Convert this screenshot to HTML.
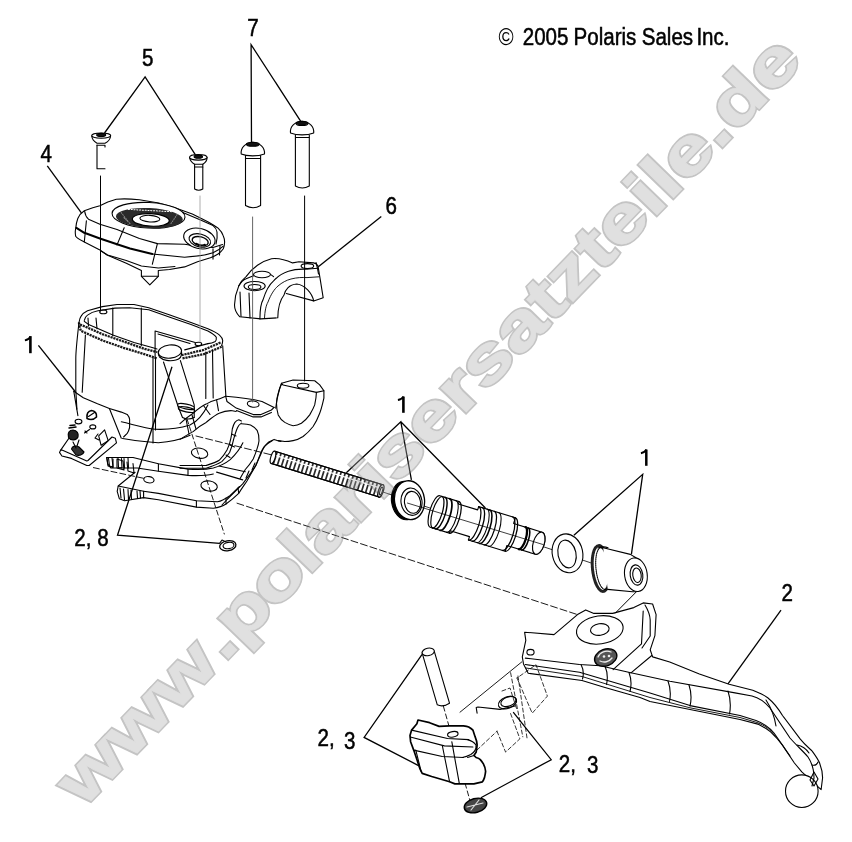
<!DOCTYPE html>
<html><head><meta charset="utf-8">
<style>
html,body{margin:0;padding:0;background:#fff;width:852px;height:842px;overflow:hidden}
svg{display:block}
</style></head><body>
<svg width="852" height="842" viewBox="0 0 852 842">
<rect width="852" height="842" fill="#fff"/>
<!-- texts -->
<g font-family="'Liberation Sans', sans-serif" font-size="24.5" fill="#000" stroke="#000" stroke-width="0.55" opacity="0.999">
<text transform="translate(498.5,45) scale(0.84,1)" stroke-width="0">©</text>
<text transform="translate(522.7,45) scale(0.84,1)">2005</text>
<text transform="translate(573.5,45) scale(0.84,1)">Polaris</text>
<text transform="translate(641.7,45) scale(0.84,1)">Sales</text>
<text transform="translate(696.4,45) scale(0.84,1)">Inc.</text>
<text transform="translate(142,66.4) scale(0.84,1)">5</text>
<text transform="translate(247.3,36.4) scale(0.84,1)">7</text>
<text transform="translate(40.5,161.9) scale(0.84,1)">4</text>
<text transform="translate(385.6,214) scale(0.84,1)">6</text>
<text transform="translate(781.5,601.2) scale(0.84,1)">2</text>
<text transform="translate(74.3,546) scale(0.84,1)">2, 8</text>
<text transform="translate(317.5,746.4) scale(0.84,1)">2,</text>
<text transform="translate(343.9,749.2) scale(0.84,1)">3</text>
<text transform="translate(558.8,772) scale(0.84,1)">2,</text>
<text transform="translate(586.9,772.7) scale(0.84,1)">3</text>
</g>
<g stroke="#000" fill="none">
<path d="M30.4,353.2 L30.4,336.2" stroke-width="2.6"/>
<path d="M30.6,336.3 C29.5,338.6 27.8,339.8 24.9,340.4" stroke-width="1.9"/>
<path d="M403.4,412.8 L403.4,396.6" stroke-width="2.6"/>
<path d="M403.6,396.6 C402.4,398.6 400.8,399.6 397.9,400" stroke-width="1.9"/>
<path d="M646.3,465.8 L646.3,449.6" stroke-width="2.5"/>
<path d="M646.5,449.6 C645.3,451.6 643.8,452.7 640.9,453.2" stroke-width="1.9"/>
</g>
<!-- leader lines -->
<g stroke="#000" stroke-width="1.3" fill="none">
<path d="M104.5,133 L145.1,76.9 L195.6,155.1"/>
<path d="M251.5,142 L251.1,44.6 L300.6,121.1"/>
<path d="M47.3,165.9 L83,215.2"/>
<path d="M381.3,216.4 L318,267.1"/>
<path d="M38.4,345.3 L75.5,392"/>
<path d="M346.3,472.7 L400.8,421.7 L411.4,479.8 M400.8,421.7 L485.4,508"/>
<path d="M573.9,535.3 L642.7,474.3 L631.4,554.4"/>
<path d="M781,610.1 L727.6,684.3"/>
<path d="M172,366.8 L117.5,535.2 L219.6,543.4"/>
<path d="M422.1,654.4 L364.1,737.4 L419,765.8"/>
<path d="M513.2,712.2 L551.2,759.7 L480.9,797.7"/>
</g>
<!-- DRAWING -->
<g id="drawing" stroke="#000" stroke-width="1.1" fill="none" stroke-linejoin="round" stroke-linecap="round">
<!-- projection lines -->


<!-- screws 5 -->
<path d="M91.8,136 C92,139.5 95,142 97,143.2 L105,143.2 C107.5,142 110.3,139.5 110.6,136" fill="#fff"/>
<ellipse cx="101.2" cy="135.6" rx="9.5" ry="2.6" fill="#fff"/>
<ellipse cx="101.2" cy="135" rx="4.5" ry="1.6" fill="#111"/>
<path d="M97,145 L97,168.8 L105,168.8"/>
<path d="M97,145.2 L105,145.2 L105,147"/>
<path d="M189.6,157.5 C190,160.5 192.5,163 194.6,164.2 L202.8,164.2 C205,163 207,160.5 207.1,157.5" fill="#fff"/>
<ellipse cx="198.3" cy="157.3" rx="8.8" ry="2.8" fill="#fff"/>
<ellipse cx="198.3" cy="156.7" rx="4.2" ry="1.6" fill="#111"/>
<path d="M194.6,164.2 L194.6,189 Q198.7,191.5 202.8,189 L202.8,164.2"/>
<path d="M194.6,167 L202.8,167"/>
<!-- screws 7 -->
<path d="M241.2,154 C240.5,148 245,143 252.8,142.3 C260.5,143 265,148 264.5,154 C258,156.5 247,156.5 241.2,154 Z" fill="#fff"/>
<ellipse cx="252.8" cy="144.3" rx="6.5" ry="2" fill="#111"/>
<path d="M245.5,155.6 L245.5,205.5 Q253,210 260.6,205.5 L260.6,155.6"/>
<path d="M246,158.5 L260,158.5"/>
<path d="M290.5,133 C289.8,127 294,122 302,121.3 C310,122 314.2,127 313.7,133 C307,135.5 297,135.5 290.5,133 Z" fill="#fff"/>
<ellipse cx="302" cy="123.4" rx="6" ry="2" fill="#111"/>
<path d="M295.4,135 L295.4,186 Q302.3,190 309.3,186 L309.3,135"/>
<path d="M296,137.5 L309,137.5"/>

<!-- cover 4 -->
<path d="M77.8,218.5 C79.5,214.5 81.5,212.5 84.3,210.7 L92.8,207.8 L99.9,205.7 L107.8,202.1 L116.3,199.3 C122,198.6 130,198.8 139.4,199.7 L158.7,203 L174.2,207.5 L192.3,214 L207.8,221.7 C212,224 215.5,226 218.1,228.2 C220.5,230.5 222.3,233 223.3,235.9 C224.3,238 224.7,240 224.6,242.4 C224.5,245 224,247 223.3,248.8 C221.8,251 220,252.8 218.1,254 C215.5,255.6 213,256.8 210.4,257.8 L197.5,261.7 L184.6,266.9 L169.5,269.5 L158.3,270.5 L158.3,276.3 L149.8,284.8 L141.4,276.3 L141.4,270.5 L126.3,263.2 L107,255 L99.9,249.9 L84.3,242 C80.5,240 77,238.5 75.7,236.3 C75.1,233.5 75.2,231 75.6,229 C76,225 76.6,221.5 77.8,218.5 Z" fill="#fff"/>
<path d="M84.6,211 C85,214 86,217 88.5,219.2 L99.9,224.2 L117,229.5 L139.4,238.5 L157.4,243.6 L184.6,244.3 L197.5,246.2 L213,247.5 L222.5,244.5"/>
<path d="M169.1,207.5 L184.6,213.2 L200,219.8 L213,225.6 C215,227 216.5,229.5 217,232 C217.5,236 217,240 216,244"/>
<path d="M76.4,227.8 L84.3,232.8 L99.9,238.5 L116.3,244 L130,248.5 L152.3,254" stroke-width="2"/>
<path d="M152.3,254 L184.6,257.2 C200,256 208,254.5 213,252.7 C218,250.5 221,248.5 223.3,246.2"/>
<path d="M86.4,220.7 L84.3,242 M124.2,227.8 L117,244.9 M157.4,243.6 L152.3,264.3 M213,248.8 L213,259.1 M220,246 L219.5,255"/>
<path d="M101,251 L107.6,255 L126.3,260.5 L141.4,266 L158.3,268 L175,266.5"/>
<path d="M141.4,276.3 L158.3,276.3"/>
<g transform="rotate(3 149 216)">
<ellipse cx="148.5" cy="215.3" rx="36.5" ry="12.8" fill="#fff"/>
<ellipse cx="149.5" cy="218" rx="33.5" ry="10" fill="#2a2a2a" stroke="none"/>
<path d="M128,210.5 L172,210.5" stroke="#fff" stroke-width="1" stroke-dasharray="1.2 1.6"/>
<path d="M121,214 L128,222 M177,213 L171,223 M124,219 L131,225" stroke="#888" stroke-width="1" stroke-dasharray="1 1.5"/>
<ellipse cx="151" cy="219.8" rx="18.5" ry="6.3" fill="#fff" stroke-width="1.2"/>
<ellipse cx="150" cy="218.6" rx="10" ry="3.3"/>
</g>
<ellipse cx="199.4" cy="238.5" rx="16" ry="10" transform="rotate(14 199.4 238.5)" fill="#fff"/>
<ellipse cx="199.8" cy="240.4" rx="11" ry="6.4" transform="rotate(14 199.8 240.4)"/>
<ellipse cx="200.2" cy="241.2" rx="8.2" ry="4.4" transform="rotate(14 200.2 241.2)" stroke-width="1.4"/>
<path d="M196,243.5 C199,245 203,245.5 205,244.5" stroke-width="1.6"/>
<!-- clamp 6 -->
<path d="M239.8,316.8 C236,313 234.5,310 234.5,305 L235.6,295.6 L238.7,286.1 C241,281 243,279 246.1,276.6 C252,268 262,261 271.5,258.7 C278,258 286,260 292.6,262.9 L299,261.8 L313.7,262.9 C316,263.5 317.5,265 318,266.1 L320.1,278.7 L323.2,297.8 L313.7,300.9 C312,293 305,285 296.8,284 C289,284.5 285,290 284,295 C280,300 278,306 277.8,317.8 L260.9,318.9 Z" fill="#fff"/>
<path d="M259.9,318.9 C260,310 261,303 263,299.9 C266,290 270,284 273.6,280.9 C278,276 283,273 288.4,271.3 C295,269 300,269 305.3,269.2 L318,268.2"/>
<path d="M238.7,286.1 C241,282 244,279.5 246.1,278.7 C253,275.5 260,273.5 267.3,273.5 C270,274 272,275 273.6,276.6"/>
<path d="M286.3,293.5 L313.7,300.9"/>
<path d="M264.5,318.5 C264.8,311 266,305.5 268,302 C271,294 274.5,289 278,286 C282,282.5 286.5,280.2 291,279 C297,277.5 302,277.3 307,277.6 L319,276.8" stroke-width="0.9"/>
<path d="M316,262.5 C317,266 318,270 318.5,274"/>
<path d="M240,292 L241,316.5 M249,293 L250,318"/>
<ellipse cx="254.6" cy="286.1" rx="10.6" ry="4.6" fill="#fff"/>
<ellipse cx="254.6" cy="287" rx="6.3" ry="2.5"/>
<ellipse cx="262" cy="274.5" rx="8.5" ry="3.2" fill="#fff"/>
<ellipse cx="307.4" cy="266.1" rx="6.3" ry="2.5"/>
</g>
<g id="body" stroke="#000" stroke-width="1.1" fill="none" stroke-linejoin="round" stroke-linecap="round">
<!-- reservoir rim -->
<path d="M79,322.5 C79.5,319 80,317.5 81.1,316.1 C83,313 85,312 87.5,310.8 L102.3,306.6 L117,304.5 L134,304.5 L148.7,307.7 L169.9,315.1 L191,322.5 L207.9,328.8 C213,331 217,333 219.5,335.1 C221.5,337 222.7,339 222.7,340.4 C222.7,342.5 222,344.5 221.6,345.7"/>
<path d="M79,322.5 C79,325 80,329 81.1,330.9 L102.3,340.4 L123.4,347.8 L144.5,354.2 L157.2,358.4 M182.5,358.4 L203.7,354.2 L221.6,346.8" stroke-width="2.3" stroke="#1a1a1a" stroke-dasharray="2.2 0.8" stroke-linecap="butt"/>
<path d="M80,324.5 L85.4,326.7 L102.3,334.1 L123.4,341.5 L144.5,348.9 L157.2,352 M181.5,355.2 L203.7,349.9 L220.6,342.5" stroke-width="2.3" stroke="#1a1a1a" stroke-dasharray="2.2 0.8" stroke-linecap="butt"/>

<path d="M84.3,320.4 C85,318 86,316 87.5,315.1 C91,312.5 94,311.5 98,310.8 L114.9,308.1 L129.7,307.7 L148.7,309.8 L169.9,317.2 L191,324.6 L207.9,330.9 C212,333 215,335 216.3,337.3 C216.5,339.5 216,341 215.3,341.5 C213,342.8 210,343.5 207.9,343.6"/>
<path d="M84.3,321.4 C87,324 90,325.5 93.8,326.7 L112.8,335.1 L134,342.5 L153,347.8 L157,349 M184.7,349.9 L207.9,343.6"/>
<path d="M112.8,308 L112.8,336 M141.3,308 L141.3,345.7 M96,318 L97,328.8 M88,318 L88.5,326"/>
<path d="M155.1,331 L155.1,358 M155.1,331 L195.2,342.5 M158,334 L190,343.5"/>
<ellipse cx="103.3" cy="311.9" rx="3.6" ry="1.9"/>
<ellipse cx="198.4" cy="344" rx="3.3" ry="1.7"/>
<!-- reservoir walls -->
<path d="M79,322.5 C77,340 75.8,350 75.8,358.4 L75.8,390 L76.9,409.1"/>
<path d="M85.4,335.1 L82.2,392.2"/>
<path d="M153,358.4 L153,443 M155.5,358.4 L155.5,430"/>
<path d="M205.8,352 L205.8,398.5 M212.5,350 L213.2,398 M222.7,345.7 L225.9,396.4"/>
<path d="M121.3,421.8 C135,425 145,428 155.1,429.2 C170,430 180,428 190,425 C198,421 203,415 207.9,404.9"/>
<!-- sight pin -->
<path d="M163.5,362 L178.3,407 L182.5,417.5 M180.4,360.6 L194.2,404.9 L194.2,417.5"/>
<ellipse cx="186" cy="406.5" rx="8.6" ry="2.4" transform="rotate(12 186 406.5)" fill="#fff"/>
<ellipse cx="186.5" cy="409.5" rx="8.4" ry="2.4" transform="rotate(12 186.5 409.5)"/>
<path d="M182.5,417.5 Q188,420.5 194.2,417.5"/>
<path d="M158.3,352 C158.2,354.5 158.6,356 159.5,357 C163,360.5 170,361.5 176,360 C180,359 182,357 181.6,352" fill="#fff"/>
<ellipse cx="169.9" cy="351.6" rx="11.7" ry="6.6" transform="rotate(-6 169.9 351.6)" fill="#fff"/>
<!-- lower body: front face -->

<!-- arch / saddle -->
<path d="M225.7,396.3 L227,401.5 L236.2,408.1 L253.2,414.6 L261,414.6 L271.4,410 L274.1,407.4"/>
<path d="M225.7,396.3 C235,397 250,398.5 262,401.5 L274.1,407.4"/>
<path d="M236.5,410.6 L253.2,416.9 L261,416.9 L271.4,412.4"/>
<ellipse cx="253.2" cy="404.1" rx="5.9" ry="3.1" transform="rotate(8 253.2 404.1)"/>
<path d="M180,423.7 C185,419 189,416 193.1,413.3 C198,409 202,406 206.1,404.1 C211,401 215,400 219.2,398.9 L225.7,396.3"/>
<path d="M180,439.4 C185,436 189,434 193.1,431.6 C198,427 202,424.5 206.1,422.4 C211,418.5 215,415 219.2,413.3 C224,411 228,410.5 232.3,410.7 L236.2,411.5"/>
<path d="M203.5,405.5 L210,414.5 M216.6,400 L218.5,410.7 M192,415 L196,429 M186,419 L189,434"/>
<path d="M180,465.5 L206.1,465.5 C211,464 216,462.5 219.2,460.3 C222.5,457 225,453.5 227,449.9 C229,446 230.3,442 230.9,438.1 C231.6,435 232,432 232.3,429 C233,426.5 233.8,424 234.9,422.4 C236,421 237.5,420 238.8,419.8 L241.4,421"/>
<path d="M180,468.2 L206.1,468.2 C213,466 218,464 221.8,461.6 C225,458.5 227.5,455.5 229.6,452.5 C231.5,448 232.8,443.5 233.6,439.4 C234.8,435 236,431 237.5,427.7 C238.5,425.5 240,424 241.4,423.1"/>
<path d="M231.5,434 L236,436 M230,445 L234.5,447 M226,455 L230,457.5"/>
<path d="M241.4,423.7 C245,424 248,424.3 250.5,425 C253.5,426.5 255.5,428.3 257.1,430.3 C258.6,433.5 259.2,437 259,440.7 C258.7,443.5 258,446 257.1,448.6 C256,452 254.7,455.5 253.2,459 C250.8,463 248,466.5 245.3,469.5 C243.5,472.5 241.7,475.5 240.1,478.6"/>
<path d="M281,441.4 C278,441 276,440 274.1,439.4 L268.8,442 C267,443.5 266,444.8 264.9,446 C263.2,448.5 262,451 261,453.8 L255.8,465.5 L250.5,473.4 L242.7,483.8 L234.9,491.7 L227,499.5 L222,505"/>
<path d="M216.6,472.1 L242.7,479.9 M219,466 L245.3,471.7 M249,471 L246,478 M255,463 L252,470"/>
<!-- lower clamp -->
<path d="M281.5,383.3 L293.1,380 L314.7,380.8 L319.7,384.9 L323.9,390.8 L316.4,392.4 L283.1,385 Z" fill="#fff"/>
<ellipse cx="303.1" cy="385.8" rx="5.8" ry="2.5"/>
<path d="M323.9,390.8 L323.9,398.2 C322.5,404 321.5,409 319.7,413.2 C317.5,419 315.5,423 313.1,426.5 C310,430.5 307,433.5 303.1,436.5 C300,438.5 297,440 293.1,440.6 C290,441.2 287,441.5 284.8,441.5 L278.2,440.6"/>
<path d="M281.5,384.1 C280,387 279,390 278.2,393.3 C277,397 276.5,400 276.5,403.2 C276.5,407 277,411 278.2,414.9 C280,418.5 282,420.5 284.8,422.4 C287.5,424 290,425.2 293.1,425.7 C296,425.6 299,424.6 301.4,423.2 C304.5,421 307.5,418 309.7,414.9 C312,411 313.6,408 314.7,404.9 C315.8,400 316.3,396 316.4,392.4"/>
<path d="M281.5,383.3 C279,390 277,398 275.7,408.2"/>
<!-- flange -->
<path d="M106.6,457.5 L133,457.5 L158.4,463.8 L188,469.1 C200,470 207,469.5 213.3,468 C220,466 226,463 230.2,459.6 C236,454 240,449 242.9,442.7"/>
<path d="M106.6,457.5 L107.7,463.8 L110.8,468 L137.3,468 L158.4,471.2 L188,475.4 C200,476 207,475.5 213.3,474"/>
<path d="M135.1,472.3 L124.6,480.7 L118.2,486 L117.2,491.3 L119.3,498.7 L124.6,500.8 L143.6,497.6 L158.4,499.7 L196.4,507.1 L213.3,508.2 C219,507.5 223,506 226,504 C231,500.5 235,497 238.7,493.4 C242,488 245,484 247.1,480.7 C250.5,475 253,470 255.6,465.9 C257.5,462 258.7,458 259.8,455.4 C261,452 262.5,449 264,446.9 C267,444 270,442 272.5,440.6"/>
<path d="M143.6,491.3 L158.4,493.4 L196.4,500.8 L217.5,501.8 C222,501 226,498.5 230.2,495.5 C234,492 237,489 239.5,486.5"/>
<path d="M118.2,486 L143.6,491.3 L143.6,497.6"/>

<path d="M122.5,438.5 C135,440.5 147,442.5 158.4,442.7 C170,442 182,439 190.1,435.3"/>
<ellipse cx="199.6" cy="453.2" rx="8.3" ry="5" transform="rotate(10 199.6 453.2)"/>
<ellipse cx="209.1" cy="486" rx="8.3" ry="5" transform="rotate(10 209.1 486)"/>
<ellipse cx="148.9" cy="479.7" rx="5.2" ry="3.1" transform="rotate(10 148.9 479.7)"/>
<path d="M108.5,458 L109.5,466 L113,467 M112,458 L113,467 M118,458 L118.5,467.5 L122,468 L121.5,458.5 M124,458.5 L124.5,468 M128,458 L128.5,468"/>
<path d="M120,488 L121,498 M123.5,489 L124.5,499.5 M128,489.5 L128.5,499.5 M131,490 L131.5,499 M137,491 L137.5,498 M140,491 L140.5,498"/>
<path d="M158.4,464 L158.4,471 M188,469.5 L188,475 M196.4,501 L196.4,507 M226,498 L226,504 M238,488 L238.7,493"/>
<!-- bracket -->
<path d="M73.8,391.3 L83.3,397.8 L97.5,403.8 L109.4,408.5 L121.3,412.1 L127.2,414.4 C128.5,416 129.4,417.5 129.6,419.2 L129.6,427.5 C129,430 128.3,432 127.2,433.4 L123.6,437"/>
<path d="M73.8,391.3 L77.9,415.6 M109.4,408.5 L121.3,438.2 M73.2,432 L60.7,450.1"/>
<path d="M60.7,450.1 L59.5,452.4 L61.9,456 L71.4,458.4 L86.8,465.5 L89.2,465.5 L116.5,442.9 L115.3,438.2 L112,437 L88,460.5 L86.8,461 L71,454 L62,450 Z" fill="#fff"/>
<path d="M98.7,435.8 L104.6,429.9 L108.2,440.6 L101.1,445.3 Z"/>
<path d="M98,434 L95,438 L99,440"/>
<path d="M87,418.5 C86.5,414 88,411 91.5,410.5 C95,410.8 97,413.5 96.5,417 C94,419.5 90,420 87,418.5 Z" fill="#fff" stroke-width="1.6"/>
<path d="M88.5,416.5 L94.5,412.5"/>
<ellipse cx="78.5" cy="421.6" rx="3.4" ry="2.3"/>
<ellipse cx="92.8" cy="426.9" rx="3" ry="2"/>
<path d="M84.5,433 L89.5,429.5 M85,431 L87,433"/>
<path d="M68.5,437.5 C67,433 69.5,430 73,430 C77,430.5 79,433.5 78,437 C76.5,440.5 70.5,441 68.5,437.5 Z" fill="#222"/>
<path d="M69,428 L76,427 M70,425.5 L75,425" stroke-width="1.5"/>
<path d="M71.5,449 C72,446 76,445 79,447 L84,452 C83,455 79,456 76,455 Z" fill="#333"/>
<path d="M73,442 L76,448 M79,440 L77,446"/>
<path d="M107,458 L108,466 L113,467.5 L113,459 M117,459 L117,468 L124,470 L123,461 L117,459 M127,462 L128,471 L134,473 L133,463.5"/>
</g>
<g id="piston" stroke="#000" stroke-width="1.1" fill="none" stroke-linejoin="round" stroke-linecap="round">
<!-- dashed axis lines -->
<path d="M93.4,467.6 L145,478.6" stroke-dasharray="6 3" stroke-width="0.9"/>
<path d="M237,503.2 L577.5,614.6" stroke-dasharray="7 3" stroke-width="0.9"/>
<path d="M187,419 L224.3,534" stroke-dasharray="5 3" stroke-width="0.9"/>
<path d="M196,436 L274,455.5" stroke-dasharray="7 3" stroke-width="0.9"/>
<path d="M380,491 L600,566" stroke-width="0.8"/>
<!-- spring -->
<g transform="translate(273,457.3) rotate(17.3)">
<rect x="0" y="-6.4" width="113" height="12.8" fill="#fff"/>
<path d="M1.5,0 L111.5,0" stroke="#2a2a2a" stroke-width="12.8" stroke-dasharray="1.7 2.5" stroke-linecap="butt"/>
<path d="M1.5,-2.5 L111.5,-2.5" stroke="#fff" stroke-width="1.4" stroke-dasharray="2 2.2"/>
<path d="M0,-6.4 L113,-6.4 M0,6.4 L113,6.4" stroke-width="1"/>
<ellipse cx="0" cy="0" rx="2.2" ry="6.4" fill="#fff"/>
<ellipse cx="113" cy="0" rx="2.4" ry="6.6" fill="#fff" stroke-width="1.3"/>
<ellipse cx="113.3" cy="0" rx="1.2" ry="4"/>
</g>
<!-- cup seal -->
<ellipse cx="405" cy="500.6" rx="13.5" ry="19.3" fill="#000" transform="rotate(-8 405 500.6)"/>
<ellipse cx="409.5" cy="500.2" rx="15" ry="19.5" fill="#fff" transform="rotate(-8 409.5 500.2)" stroke-width="1.3"/>
<ellipse cx="411.5" cy="501.7" rx="10.5" ry="13.7" transform="rotate(-8 411.5 501.7)"/>
<ellipse cx="412.5" cy="502.3" rx="8" ry="11" transform="rotate(-8 412.5 502.3)"/>
<!-- piston -->
<g transform="translate(435,511.5) rotate(17) scale(0.96,1)">
<path d="M0,-16.5 L21,-16.5 L21,-14 L42,-14 L42,-17.5 L82,-17.5 L82,-11.5 L113,-11.5 A5.75,11.5 0 0 1 113,11.5 L82,11.5 L82,17.5 L42,17.5 L42,14 L21,14 L21,16.5 L0,16.5 A5.45,16.5 0 0 1 0,-16.5 Z" fill="#fff" stroke-width="1.2"/>
<path d="M3,-16.5 A5.45,16.5 0 0 0 3,16.5" stroke-width="1.2"/>
<path d="M2.2,-16.5 A5.45,16.5 0 0 1 2.2,16.5" stroke-width="1.3"/>
<path d="M5.6,-16.5 A5.45,16.5 0 0 1 5.6,16.5" stroke-width="1.5"/>
<path d="M10.9,-16.5 A5.45,16.5 0 0 1 10.9,16.5" stroke-width="1.8"/>
<path d="M17.7,-16.5 A5.45,16.5 0 0 1 17.7,16.5"/>
<path d="M21,-16.5 A5.45,16.5 0 0 1 21,16.5" stroke-width="1.3"/>
<path d="M42,-17.5 A5.78,17.5 0 0 1 42,17.5" stroke-width="1.3"/>
<path d="M46,-17.5 A5.78,17.5 0 0 1 46,17.5" stroke-width="1.4"/>
<path d="M51,-17.5 A5.78,17.5 0 0 1 51,17.5"/>
<path d="M54,-17.5 A5.78,17.5 0 0 1 54,17.5" stroke-width="1.6"/>
<path d="M59,-17.5 A5.78,17.5 0 0 1 59,17.5" stroke-width="1.3"/>
<path d="M64,-17.5 A5.78,17.5 0 0 1 64,17.5"/>
<path d="M79,-17.5 A5.78,17.5 0 0 1 79,17.5" stroke-width="1.3"/>
<path d="M82,-17.5 A5.78,17.5 0 0 1 82,17.5" stroke-width="1.3"/>
<path d="M95,-11.5 A3.80,11.5 0 0 1 95,11.5" stroke-width="2.4"/>
<path d="M98,-11.5 A3.80,11.5 0 0 1 98,11.5" stroke-width="1.6"/>
<ellipse cx="113" cy="0" rx="5.75" ry="11.5" fill="#fff" stroke-width="1.2"/>
<path d="M-30,0 L118,0" stroke-width="0.7"/>
</g>
<!-- washer -->
<ellipse cx="567.5" cy="553.3" rx="15.2" ry="19.6" transform="rotate(-12 567.5 553.3)" fill="#fff"/>
<ellipse cx="567" cy="554" rx="9" ry="14" transform="rotate(-12 567 554)"/>
<!-- bushing -->
<ellipse cx="601" cy="568.5" rx="8.5" ry="23" transform="rotate(-6 601 568.5)" fill="#fff" stroke-width="3" stroke="#222" stroke-dasharray="2 0.8"/>
<ellipse cx="603" cy="568.5" rx="7" ry="21" transform="rotate(-6 603 568.5)" stroke-dasharray="1 1"/>
<path d="M603.2,547.7 L630.3,554.4 L636,557.8 L636,591.6 L632.5,591.7 L607.7,589.4" fill="#fff"/>
<path d="M598,548 C602,546.5 605,546.5 608,547.8"/>
<ellipse cx="635.9" cy="574.7" rx="11.3" ry="16.9" fill="#fff" transform="rotate(-8 635.9 574.7)"/>
<ellipse cx="636.5" cy="575" rx="6.3" ry="10.2" transform="rotate(-8 636.5 575)"/>
<ellipse cx="637" cy="575.2" rx="4.2" ry="7.3" transform="rotate(-8 637 575.2)"/>
</g>
<g id="lever" stroke="#000" stroke-width="1.1" fill="none" stroke-linejoin="round" stroke-linecap="round">
<path d="M524.6,632.2 L554,634.6 L577.5,614.6 L585.7,609.9 L593.9,613.4 L612.7,613.4 L633.8,607.6 L643.2,602.9 L652.6,604 L656.1,614.6 L654.9,635.7 L650.2,649.8 L652.6,656.9 L669.7,662 L699.4,673.9 L729.1,684.3 L752.8,690.2 C760,693 764,695 767.7,697.7 C773,702 778,708 782.5,715.5 L800.3,739.2 C805,745 809,748 812.2,751.1 C815,755 818,759 819.6,763 C821.5,768 822.6,773 822.6,777.8 L821.1,789.7 L801.8,771.9 L794.4,763 L782.5,745.2 C778,739 774,735 770.6,731.8 C766,728 762,726 758.8,724.4 L740,719.5 L690,709.5 L650,701.5 L640,697.5 L605,687.5 L582,680.5 L528.2,673.3 L523.5,663.9 L522.3,656.9 L525.8,640.4 Z" fill="#fff"/>
<circle cx="801.8" cy="791.2" r="16.3" fill="#fff"/>
<path d="M525.3,658.1 L579.5,664.5 L600.2,665.8 L628.6,672.3 L669.9,681.3 L735,692.9 L752,696 C760,698 765,702 770,708 L790,738 C797,746 803,751 808,757 C812,763 814,770 814,778 L812,786"/>
<path d="M525.3,664.5 L579.5,672.3 L650,693 L690,705.6 L740,715.5 L756,720.5 C764,723.5 769,727 774,733 L790,756"/>
<path d="M526,668 L582,676.5 L650,697.5 L690,707.8 L740,717.5 L757,722.5 C765,725.5 770,729 775,736" stroke-width="0.9"/>
<path d="M581,664.5 Q584.7,671.4 582.5,679 M605,666 Q608.7,675.0 606.5,684.5 M629,672.5 Q632.5,681.8 630,691.5 M668,681 Q671.7,691.0 669.5,701.5 M689,685 Q692.5,695.4 690,706 M728,691 Q731.7,702.3 729.5,714 M766,700 Q773.8,711.9 776,726 M797,745 Q804.7,746.5 809,753 M812,765 Q816.3,766.2 818,762"/>

<path d="M613.1,669.7 L641.5,643.9 L643.2,611 M631,672.8 L651.8,655.5"/>
<path d="M645,605 C648,610 650,615 650.2,620 L650.2,636 L642,648"/>
<ellipse cx="599.8" cy="629.9" rx="23.5" ry="14" transform="rotate(-8 599.8 629.9)" fill="#fff"/>
<ellipse cx="599.8" cy="629.5" rx="9.4" ry="5.8" transform="rotate(-8 599.8 629.5)"/>
<ellipse cx="530.5" cy="652.2" rx="3.6" ry="2.8"/>
<ellipse cx="605.7" cy="657.5" rx="11.5" ry="8.3" transform="rotate(-20 605.7 657.5)" fill="#555" stroke-width="1.3"/>
<path d="M598,657 C600,652 606,650 611,652 M600,661 C604,663 609,662 612,658" stroke="#eee" stroke-width="1.3"/>
<circle cx="604" cy="656.5" r="1.3" fill="#eee" stroke="none"/><circle cx="609" cy="656" r="1.3" fill="#eee" stroke="none"/>
<path d="M810,780 L814,772 L818,779 L814,786 Z"/>
</g>
<g id="switch" stroke="#000" stroke-width="1.1" fill="none" stroke-linejoin="round" stroke-linecap="round">
<!-- hidden/dashed lines -->
<path d="M460,712.2 L521.8,661.9" stroke-width="0.9"/>
<path d="M443.4,706.3 L470.9,803.9" stroke-dasharray="5 3" stroke-width="0.9"/>
<path d="M510.6,672.7 L522.8,736.8 M518,676 L527,738" stroke-dasharray="4 2.5" stroke-width="0.8"/>
<path d="M517,678 L532.2,713.2 L547.4,696.1 L536,664.7 L517,678" stroke-dasharray="4 2.5" stroke-width="0.8"/>
<path d="M502,691 L510,688 L517,710" stroke-dasharray="4 2.5" stroke-width="0.8"/>
<path d="M497,731.2 L505.6,752.1 L519.9,738.8 L510,712" stroke-dasharray="4 2.5" stroke-width="0.8"/>
<path d="M477,750 L497,731.2" stroke-dasharray="4 2.5" stroke-width="0.8"/>
<!-- pin -->
<path d="M422.1,652.9 L437.3,704.8 Q443,707.5 449.5,703.2 L434.3,651.4" fill="#fff"/>
<ellipse cx="428.2" cy="651.9" rx="6.2" ry="3.7" transform="rotate(-12 428.2 651.9)" fill="#fff"/>
<!-- switch body -->
<path d="M418,720 L429.6,722.7 L439.1,726.4 L449.6,725.8 L463.4,725.8 C466,726 467.5,726.3 468.7,726.9 C470.5,728 472,729 472.9,730.1 L475,736.4 C476.3,739.5 477,742 477.1,744.9 C476.9,748 476.6,750 476.1,752.3 L473.9,755.4 L476.1,757.5 C478,758 479.5,758.8 480.3,759.6 C481.5,761 482.6,762.5 483.4,763.9 C484.8,766.5 485.4,769 485.6,771.3 C485.4,773.5 485,775.5 484.5,777.6 C483.8,779.5 483.2,780.8 482.4,781.8 L473.9,783.9 L454.9,783.9 L449.6,781.8 L431.7,776.5 L422.2,773.4 L420.1,769.2 L416.9,759.6 L413.7,750.1 L410.6,741.7 L410,735.4 L411.6,730.1 L416.9,723.7 Z" fill="#fff" stroke-width="1.7"/>
<path d="M411.6,730.1 L447.5,738.5 L468.7,739.6 M410.3,737 L444.4,745.9 L472.9,747 M413.7,750.1 L442.3,756.5 L463.4,757.5"/>
<path d="M442.3,745.5 L449.6,781.8 M451.8,741.7 L459.2,782.9 M467.6,757.5 L473.9,755.4"/>
<path d="M467.6,739.6 C471,740.5 474,742 476,745 C476.5,749 474,752.5 470.8,754.5 C467,756.5 465,757 462.3,757.5"/>
<path d="M415.8,750.1 L421.1,771.3"/>
<ellipse cx="452.8" cy="734.3" rx="5.3" ry="2.7" transform="rotate(-10 452.8 734.3)" fill="#fff"/>
<!-- spring -->
<ellipse cx="507.5" cy="702.7" rx="9.5" ry="5.7" transform="rotate(-20 507.5 702.7)"/>
<ellipse cx="508.5" cy="701.5" rx="8" ry="4.6" transform="rotate(-20 508.5 701.5)"/>
<path d="M477.1,713.2 L476.2,707.5 L478,707 L500,709.4 M500,709.4 L515,706"/>
<!-- e-clip bottom -->
<ellipse cx="475.5" cy="805.5" rx="11.5" ry="7" transform="rotate(-15 475.5 805.5)" fill="#444" stroke-width="1.4"/>
<path d="M467,807 L483,803 M471,810 L479,800" stroke="#ddd" stroke-width="1.2"/>
<!-- clip 2,8 -->
<ellipse cx="227.8" cy="545.7" rx="8.2" ry="5" transform="rotate(-10 227.8 545.7)" stroke-width="1.3"/>
<ellipse cx="228.5" cy="545.5" rx="5.5" ry="3.2" transform="rotate(-10 228.5 545.5)"/>
<path d="M219.6,543.4 L222,540 L226,542"/>
</g>
<path d="M636.2,592 L615,613.4" stroke="#000" stroke-width="1"/>
<!-- projection lines over parts -->
<g stroke-linecap="round">
<path d="M100.5,176 L100.5,311" stroke="#000" stroke-width="1"/>
<path d="M200,196 L200,342" stroke="#999" stroke-width="0.8"/>
<path d="M252.6,217 L252.6,402" stroke="#555" stroke-width="0.9"/>
<path d="M304.6,196 L304.6,381" stroke="#000" stroke-width="1"/>
</g>
<!-- watermark -->
<g opacity="0.3725" transform="translate(83.3,808.8) rotate(-46) scale(1.29,1)" font-family="'Liberation Sans', sans-serif" font-weight="bold" font-size="66">
<text x="0" y="0" dx="0 0 0 6.1 -0.8 -2.8 -1.8 -0.7" fill="rgb(96,96,96)" stroke="rgb(96,96,96)" stroke-width="3.8" stroke-linejoin="miter" stroke-miterlimit="3">www.polarisersatzteile.de</text>
<text x="0" y="0" dx="0 0 0 6.1 -0.8 -2.8 -1.8 -0.7" fill="rgb(172,172,172)" stroke="rgb(172,172,172)" stroke-width="0.7">www.polarisersatzteile.de</text>
</g>
</svg>
</body></html>
